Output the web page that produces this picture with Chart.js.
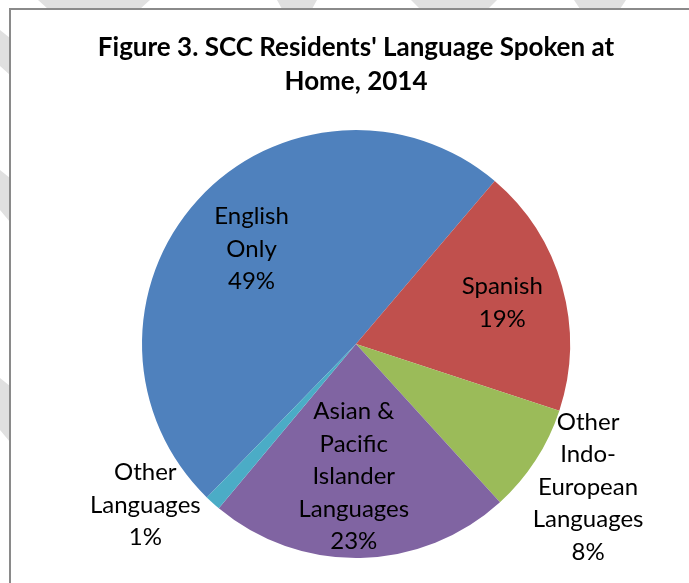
<!DOCTYPE html>
<html>
<head>
<meta charset="utf-8">
<script src="https://cdn.jsdelivr.net/npm/chart.js@4.4.1/dist/chart.umd.min.js"></script>
<style>
  html, body { margin: 0; padding: 0; background: #fff; overflow: hidden; }
  body { width: 689px; height: 583px; position: relative; }
  .mark { position: absolute; left: 0; top: 0; width: 689px; height: 583px; background: #e0e0e0; }
  .frame {
    position: absolute; left: 9px; top: 8px;
    width: 700px; height: 600px;
    border-left: 2px solid #8a8a8a; border-top: 2px solid #8a8a8a;
    background: #fff;
  }
  .frame canvas { position: absolute; left: 0; top: 0; }
</style>
</head>
<body>
<!-- faint page watermark peeking out round the chart frame -->
<div class="mark" style="clip-path: polygon(38px 0, 150px 0, 140px 9px, 48px 9px)"></div>
<div class="mark" style="clip-path: polygon(277px 0, 317px 0, 312px 9px, 282px 9px)"></div>
<div class="mark" style="clip-path: polygon(411px 0, 497px 0, 488px 9px, 420px 9px)"></div>
<div class="mark" style="clip-path: polygon(574px 0, 626px 0, 620px 9px, 580px 9px)"></div>
<div class="mark" style="clip-path: polygon(0 30px, 10px 38px, 10px 75px, 0 66px)"></div>
<div class="mark" style="clip-path: polygon(0 170px, 10px 178px, 10px 222px, 0 210px)"></div>
<div class="mark" style="clip-path: polygon(0 378px, 10px 386px, 10px 442px, 0 430px)"></div>
<div class="frame">
  <canvas id="langChart" width="690" height="600"></canvas>
</div>
<script>
// SCC residents, language spoken at home (2014)
const categories = ['English Only', 'Spanish', 'Other Indo-European Languages', 'Asian & Pacific Islander Languages', 'Other Languages'];
const shares = [48.9, 18.8, 8.2, 22.8, 1.2];
const shownPct = ['49%', '19%', '8%', '23%', '1%'];
const labelLines = [
  ['English', 'Only'],
  ['Spanish'],
  ['Other', 'Indo-', 'European', 'Languages'],
  ['Asian &', 'Pacific', 'Islander', 'Languages'],
  ['Other', 'Languages']
];
const sliceColors = ['#4f81bd', '#c0504d', '#9bbb59', '#8064a2', '#4bacc6'];

const FONT = 'Lato, "Open Sans", sans-serif';

// where each label sits: fraction of radius along slice middle, plus nudge
const labelPlace = [
  { f: 0.66, dx: 0, dy: 0 },
  { f: 0.71, dx: 0, dy: 0 },
  { f: 1.27, dx: 4, dy: -5 },
  { f: 0.62, dx: -5, dy: 0 },
  { f: 1.24, dx: -33, dy: -36 }
];

const sliceLabels = {
  id: 'sliceLabels',
  afterDatasetsDraw(chart) {
    const { ctx } = chart;
    const meta = chart.getDatasetMeta(0);
    ctx.save();
    ctx.font = '24px ' + FONT;
    ctx.fillStyle = '#000';
    ctx.textAlign = 'center';
    ctx.textBaseline = 'middle';
    const lh = 32.5;
    meta.data.forEach((arc, i) => {
      const p = arc.getProps(['x', 'y', 'startAngle', 'endAngle', 'outerRadius'], true);
      const mid = (p.startAngle + p.endAngle) / 2;
      const place = labelPlace[i];
      const r = p.outerRadius * place.f;
      const cx = p.x + Math.cos(mid) * r + place.dx;
      const cy = p.y + Math.sin(mid) * r + place.dy;
      const lines = labelLines[i].concat(shownPct[i]);
      const top = cy - (lines.length - 1) * lh / 2;
      lines.forEach((t, k) => ctx.fillText(t, cx, top + k * lh));
    });
    ctx.restore();
  }
};

new Chart(document.getElementById('langChart'), {
  type: 'pie',
  data: {
    labels: categories,
    datasets: [{
      data: shares,
      backgroundColor: sliceColors,
      borderWidth: 0,
      hoverOffset: 0
    }]
  },
  options: {
    responsive: false,
    animation: false,
    rotation: 224.2,
    layout: { padding: { top: 0, bottom: 52, left: 0, right: 0 } },
    plugins: {
      legend: { display: false },
      tooltip: { enabled: false },
      title: {
        display: true,
        text: ["Figure 3. SCC Residents' Language Spoken at", 'Home, 2014'],
        color: '#000',
        font: { family: FONT, size: 26, weight: 'bold', lineHeight: 1.3077 },
        padding: { top: 21, bottom: 31 }
      }
    }
  },
  plugins: [sliceLabels]
});
</script>
</body>
</html>
